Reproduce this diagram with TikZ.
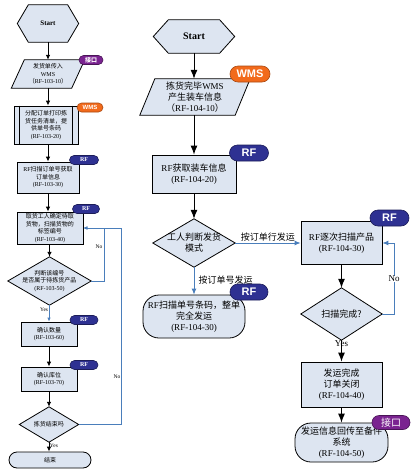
\documentclass[tikz,border=0pt]{standalone}
\usepackage{fontspec}
\setmainfont{Liberation Serif}
\newfontfamily\cjk{Noto Sans CJK SC}
\newfontfamily\tagsans{Liberation Sans}
\usetikzlibrary{arrows.meta,backgrounds,shapes.misc}
\newcommand{\zh}[1]{{\cjk #1}}
\definecolor{boxfill}{HTML}{DDE5F1}
\definecolor{flowblue}{HTML}{4A7EBB}
\definecolor{tagorange}{HTML}{F26A1B}
\definecolor{tagnavy}{HTML}{2E3192}
\definecolor{tagpurple}{HTML}{7A2390}
\tikzset{
  box/.style={draw=black, line width=0.8pt, fill=boxfill, inner sep=0pt, align=center},
  ghost/.style={inner sep=0pt, align=center},
  shapefill/.style={draw=black, line width=0.8pt, fill=boxfill},
  lfont/.style={font=\fontsize{6}{7.6}\selectfont},
  rfont/.style={font=\fontsize{9}{11}\selectfont},
  larr/.style={draw=black, line width=0.9pt, -{Latex[length=5pt,width=4.5pt]}},
  rarr/.style={draw=black, line width=1pt, -{Latex[length=9pt,width=7pt]}},
  lblue/.style={draw=flowblue, line width=0.8pt, -{Latex[length=4pt,width=3.5pt]}},
  rblue/.style={draw=flowblue, line width=0.9pt, -{Latex[length=6pt,width=5pt]}},
  tagbase/.style={rounded rectangle, inner sep=0pt, text=white, line width=0.6pt},
  ltag/.style={tagbase, minimum height=9pt, font=\fontsize{6}{6}\selectfont\bfseries},
  rtag/.style={tagbase, minimum height=16pt, font=\tagsans\fontsize{11}{11}\selectfont\bfseries},
  torange/.style={fill=tagorange, draw=tagorange!70!black},
  tnavy/.style={fill=tagnavy, draw=tagnavy!60!black},
  tpurple/.style={fill=tagpurple, draw=tagpurple!60!black},
  lbl/.style={inner sep=0.5pt}
}
\begin{document}
\begin{tikzpicture}[x=1pt,y=-1pt]
\useasboundingbox (0,0) rectangle (418,472);

% ---------------- left column ----------------
\node[ghost, lfont, minimum width=61pt, minimum height=37pt, font=\fontsize{7}{8}\selectfont\bfseries] (s1) at (48,23.5) {Start};
\node[ghost, lfont, minimum width=73pt, minimum height=28pt] (p1) at (48,74) {\zh{发货单传入}\\WMS\\\zh{（}RF-103-10\zh{）}};
\node[box, lfont, minimum width=64pt, minimum height=38pt] (b1) at (46,125) {\zh{分配订单打印拣}\\\zh{货任务清单，提}\\\zh{供单号条码}\\(RF-103-20)};
\draw[line width=0.8pt] ([xshift=6pt]b1.north west) -- ([xshift=6pt]b1.south west);
\draw[line width=0.8pt] ([xshift=-6pt]b1.north east) -- ([xshift=-6pt]b1.south east);
\node[box, lfont, minimum width=62pt, minimum height=31pt] (b2) at (48,177.5) {RF\zh{扫描订单号获取}\\\zh{订单信息}\\(RF-103-30)};
\node[box, lfont, minimum width=66pt, minimum height=32pt] (b3) at (50,228) {\zh{取货工人确定待取}\\\zh{货物，扫描货物的}\\\zh{标签编号}\\(RF-103-40)};
\node[ghost, lfont, minimum width=83pt, minimum height=48pt] (d1) at (49.5,281) {\zh{判断该编号}\\\zh{是否属于待拣货产品}\\(RF-103-50)};
\node[box, lfont, minimum width=56pt, minimum height=24pt] (b4) at (49,334) {\zh{确认数量}\\(RF-103-60)};
\node[box, lfont, minimum width=56pt, minimum height=24pt] (b5) at (49,379) {\zh{确认库位}\\(RF-103-70)};
\node[ghost, lfont, minimum width=59pt, minimum height=35pt] (d2) at (49,424.5) {\zh{拣货结束吗}};
\node[box, lfont, rounded corners=8pt, minimum width=82pt, minimum height=16pt] (t1) at (50,460) {\zh{结束}};

% ---------------- right column ----------------
\node[ghost, rfont, minimum width=81pt, minimum height=33pt, font=\fontsize{10}{12}\selectfont\bfseries] (s2) at (194,36.5) {Start};
\node[ghost, rfont, minimum width=110pt, minimum height=36pt] (p2) at (195,97) {\zh{拣货完毕}WMS\\\zh{产生装车信息}\\\zh{（}RF-104-10\zh{）}};
\node[box, rfont, minimum width=84pt, minimum height=38pt] (b6) at (194,174) {RF\zh{获取装车信息}\\(RF-104-20)};
\node[ghost, rfont, minimum width=82pt, minimum height=48pt] (d3) at (194,243) {\zh{工人判断发货}\\\zh{模式}};
\node[box, rfont, rounded corners=16pt, minimum width=102pt, minimum height=43pt] (t2) at (194,316.5) {RF\zh{扫描单号条码，整单}\\\zh{完全发运}\\(RF-104-30)};
\node[box, rfont, minimum width=81pt, minimum height=43pt] (b7) at (341.5,243) {RF\zh{逐次扫描产品}\\(RF-104-30)};
\node[ghost, rfont, minimum width=81pt, minimum height=52pt] (d4) at (341.5,314) {\zh{扫描完成?}};
\node[box, rfont, minimum width=81pt, minimum height=45pt] (b8) at (341.5,384.5) {\zh{发运完成}\\\zh{订单关闭}\\(RF-104-40)};
\node[box, rfont, rounded corners=16pt, minimum width=93pt, minimum height=39pt] (t3) at (341.5,442.5) {\zh{发运信息回传至备件}\\\zh{系统}\\(RF-104-50)};

% ---------------- background shapes ----------------
\begin{pgfonlayer}{background}
\fill[white] (0,0) rectangle (418,472);
\path[shapefill] (s1.west) -- ([xshift=11pt]s1.north west) -- ([xshift=-11pt]s1.north east) -- (s1.east) -- ([xshift=-11pt]s1.south east) -- ([xshift=11pt]s1.south west) -- cycle;
\path[shapefill] (s2.west) -- ([xshift=15pt]s2.north west) -- ([xshift=-15pt]s2.north east) -- (s2.east) -- ([xshift=-15pt]s2.south east) -- ([xshift=15pt]s2.south west) -- cycle;
\path[shapefill] ([xshift=13pt]p1.north west) -- (p1.north east) -- ([xshift=-13pt]p1.south east) -- (p1.south west) -- cycle;
\path[shapefill] ([xshift=15pt]p2.north west) -- (p2.north east) -- ([xshift=-15pt]p2.south east) -- (p2.south west) -- cycle;
\foreach \n in {d1,d2,d3,d4}
  \path[shapefill] (\n.west) -- (\n.north) -- (\n.east) -- (\n.south) -- cycle;
\end{pgfonlayer}

% ---------------- connectors left ----------------
\draw[larr] (s1) -- (p1);
\draw[larr] (p1) -- (b1.north -| p1.south);
\draw[larr] (b1.south -| b2.north) -- (b2);
\draw[larr] (b2) -- (b3.north -| b2.south);
\draw[larr] (b3.south -| d1.north) -- (d1);
\draw[lblue] (d1.south -| b4.north) -- (b4) node[lbl, pos=0.3, left, font=\fontsize{5.5}{6}\selectfont] {Yes};
\draw[larr] (b4) -- (b5);
\draw[larr] (b5) -- (d2.north -| b5.south);
\draw[larr] (d2) -- (t1.north -| d2.south) node[lbl, pos=0.35, right, font=\fontsize{5.5}{6}\selectfont] {Yes};
\coordinate (lk1) at (104,281);
\coordinate (lk2) at (121,424.5);
\draw[lblue] (d1.east) -- (lk1) -- (lk1 |- b3.east) -- (b3.east);
\node[lbl, font=\fontsize{5.5}{6}\selectfont, anchor=east] (no1) at (103,247) {No};
\draw[lblue] (d2.east) -- (lk2) -- (lk2 |- b3.east) -- (b3.east);
\node[lbl, font=\fontsize{5.5}{6}\selectfont, anchor=east] (no2) at (121,377) {No};

% ---------------- connectors right ----------------
\draw[rarr] (s2) -- (p2.north -| s2.south);
\draw[rarr] (p2.south -| b6.north) -- (b6);
\draw[rarr] (b6) -- (d3);
\draw[rblue] (d3.east) -- (b7.west) node[lbl, midway, above=1pt, rfont] {\zh{按订单行发运}};
\draw[rblue] (d3) -- (t2);
\node[lbl, rfont, anchor=west] (lab2) at (198,280) {\zh{按订单号发运}};
\draw[rarr] (b7) -- (d4);
\draw[rarr] (d4) -- (b8);
\node[lbl, rfont] (yes3) at (341.5,344) {Yes};
\draw[rarr] (b8) -- (t3);
\coordinate (rk1) at (394,314);
\draw[rblue] (d4.east) -- (rk1) -- (rk1 |- b7.east) -- (b7.east);
\node[lbl, rfont, fill=white] (no3) at (394,279) {No};

% ---------------- tags ----------------
\node[ltag, tpurple, minimum width=24pt] (g1) at (91,60) {\zh{接口}};
\node[ltag, torange, minimum width=26pt, font=\tagsans\fontsize{6}{6}\selectfont\bfseries] (g2) at (90,107.5) {WMS};
\node[ltag, tnavy, minimum width=29pt] (g3) at (84,160) {RF};
\node[ltag, tnavy, minimum width=27pt] (g4) at (86,209) {RF};
\node[ltag, tnavy, minimum width=28pt] (g5) at (84,320) {RF};
\node[ltag, tnavy, minimum width=28pt] (g6) at (84,365) {RF};
\node[rtag, torange, minimum width=40pt] (g7) at (250,74) {WMS};
\node[rtag, tnavy, minimum width=39pt] (g8) at (249,153) {RF};
\node[rtag, tnavy, minimum width=38pt] (g9) at (249,292) {RF};
\node[rtag, tnavy, minimum width=39pt] (g10) at (389.5,218) {RF};
\node[rtag, tpurple, minimum width=38pt, minimum height=14pt, font=\cjk\fontsize{10}{10}\selectfont] (g11) at (391,422.5) {接口};
\end{tikzpicture}
\end{document}
